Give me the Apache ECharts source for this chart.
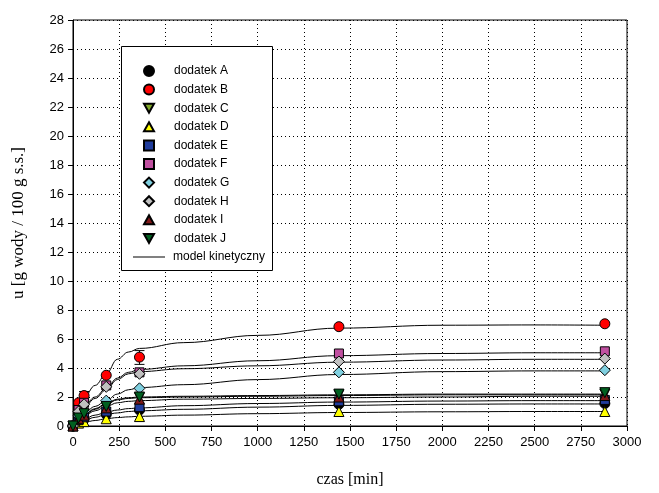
<!DOCTYPE html>
<html>
<head>
<meta charset="utf-8">
<script src="https://cdn.jsdelivr.net/npm/echarts@6/dist/echarts.min.js"></script>
<style>
  html, body { margin: 0; padding: 0; background: #fff; }
  #chart { width: 659px; height: 493px; }
</style>
</head>
<body>
<div id="chart"></div>
<script>
// measured points: time [min]
let pointTimes = [0, 30, 60, 180, 360, 1440, 2880]
let ptA = [0, 0.35, 0.5, 0.8, 1.1, 1.5, 1.55]
let ptB = [0, 1.6, 2.1, 3.5, 4.75, 6.85, 7.05]
let ptC = [0, 0.5, 0.8, 1.3, 1.95, 2.15, 2.2]
let ptD = [0, 0.2, 0.3, 0.5, 0.65, 1.0, 1.0]
let ptE = [0, 0.4, 0.6, 1.0, 1.3, 1.7, 1.8]
let ptF = [0, 1.1, 1.6, 2.8, 3.7, 5.0, 5.15]
let ptG = [0, 0.7, 1.0, 1.75, 2.6, 3.7, 3.85]
let ptH = [0, 1.0, 1.5, 2.7, 3.6, 4.45, 4.65]
let ptI = [0, 0.5, 0.75, 1.25, 1.85, 2.0, 2.1]
let ptJ = [0, 0.55, 0.85, 1.35, 2.0, 2.2, 2.3]

// error bars (only visible ones): time, low, high
let errB = [[60, 1.85, 2.38], [360, 4.25, 5.2]]

// model curves
let modelTimes = [0, 30, 60, 120, 180, 240, 300, 360, 600, 1000, 1440, 2000, 2500, 2880]
let mA = [0, 0.25, 0.4, 0.6, 0.8, 0.9, 1.0, 1.05, 1.15, 1.3, 1.42, 1.5, 1.52, 1.52]
let mB = [0, 1.3, 2.0, 2.8, 3.6, 4.6, 5.1, 5.35, 5.75, 6.25, 6.75, 6.95, 6.97, 6.95]
let mC = [0, 0.45, 0.75, 1.15, 1.5, 1.8, 1.9, 1.95, 2.0, 2.05, 2.1, 2.15, 2.15, 2.15]
let mD = [0, 0.15, 0.25, 0.38, 0.5, 0.58, 0.63, 0.67, 0.75, 0.85, 0.93, 0.98, 1.0, 1.0]
let mE = [0, 0.3, 0.5, 0.75, 0.95, 1.1, 1.2, 1.25, 1.4, 1.55, 1.65, 1.72, 1.75, 1.75]
let mF = [0, 0.9, 1.4, 2.0, 2.6, 3.3, 3.7, 3.9, 4.15, 4.5, 4.85, 5.0, 5.05, 5.05]
let mG = [0, 0.55, 0.9, 1.35, 1.75, 2.2, 2.5, 2.65, 2.85, 3.2, 3.55, 3.75, 3.8, 3.8]
let mH = [0, 0.85, 1.3, 1.9, 2.5, 3.2, 3.6, 3.75, 3.95, 4.15, 4.4, 4.55, 4.6, 4.6]
let mI = [0, 0.4, 0.7, 1.05, 1.35, 1.6, 1.7, 1.75, 1.85, 1.9, 1.95, 2.0, 2.05, 2.05]
let mJ = [0, 0.5, 0.8, 1.2, 1.55, 1.85, 1.95, 2.0, 2.05, 2.1, 2.15, 2.2, 2.2, 2.2]

let names = ['dodatek A', 'dodatek B', 'dodatek C', 'dodatek D', 'dodatek E',
  'dodatek F', 'dodatek G', 'dodatek H', 'dodatek I', 'dodatek J']
let modelName = 'model kinetyczny'
let xTicks = [0, 3000, 250]
let yTicks = [0, 28, 2]

let points = [ptA, ptB, ptC, ptD, ptE, ptF, ptG, ptH, ptI, ptJ]
let models = [mA, mB, mC, mD, mE, mF, mG, mH, mI, mJ]
let colors = ['#000000', '#ff0000', '#80a828', '#ffff00', '#203c9c',
  '#c050a0', '#80d0e0', '#c0c0c0', '#801818', '#006020']
let downTri = 'path://M0,0 L10,0 L5,9 Z'
let upTri = 'path://M5,0 L10,9 L0,9 Z'
let symbols = ['circle', 'circle', downTri, upTri, 'rect',
  'rect', 'diamond', 'diamond', upTri, downTri]
let sizes = [10, 10, 10, 10, 9, 9, 11, 11, 10, 10]

var myChart = echarts.init(document.getElementById('chart'))

let series = []
models.forEach((m, i) => {
  series.push({
    name: modelName,
    type: 'line',
    data: modelTimes.map((t, k) => [t, m[k]]),
    smooth: 0.4,
    smoothMonotone: 'x',
    symbol: 'none',
    lineStyle: { color: '#000', width: 1 },
    itemStyle: { color: '#000' },
    z: 2,
    silent: true
  })
})

series.push({
  type: 'custom',
  z: 3,
  silent: true,
  data: errB,
  renderItem: function (params, api) {
    let top = api.coord([api.value(0), api.value(2)])
    let bot = api.coord([api.value(0), api.value(1)])
    let w = 5
    let st = { stroke: '#000', lineWidth: 1 }
    return {
      type: 'group',
      children: [
        { type: 'line', shape: { x1: top[0], y1: top[1], x2: bot[0], y2: bot[1] }, style: st },
        { type: 'line', shape: { x1: top[0] - w, y1: top[1], x2: top[0] + w, y2: top[1] }, style: st },
        { type: 'line', shape: { x1: bot[0] - w, y1: bot[1], x2: bot[0] + w, y2: bot[1] }, style: st }
      ]
    }
  }
})

points.forEach((p, i) => {
  series.push({
    name: names[i],
    type: 'scatter',
    data: pointTimes.map((t, k) => [t, p[k]]),
    symbol: symbols[i],
    symbolSize: sizes[i],
    itemStyle: { color: colors[i], borderColor: '#000', borderWidth: 1, opacity: 1 },
    z: 5
  })
})

let legendFont = { fontSize: 12, color: '#000', fontFamily: 'Liberation Sans, Arial, sans-serif' }

let option = {
  animation: false,
  backgroundColor: '#fff',
  textStyle: { fontFamily: 'Liberation Sans, Arial, sans-serif', color: '#000' },
  grid: {
    left: 73, right: 32, top: 20, bottom: 67,
    show: true, borderColor: '#000', borderWidth: 1, backgroundColor: 'transparent'
  },
  graphic: [{
    type: 'rect',
    left: 121, top: 46,
    shape: { width: 151, height: 224 },
    style: { fill: '#fff', stroke: '#000', lineWidth: 1 },
    z: 50
  }],
  legend: [{
    orient: 'vertical',
    left: 143, top: 65,
    padding: 0,
    itemWidth: 10,
    itemHeight: 10,
    itemGap: 6.6,
    z: 60,
    textStyle: Object.assign({ padding: [0, 0, 0, 15] }, legendFont),
    data: names.map((n, i) => ({ name: n, icon: symbols[i] }))
  }, {
    orient: 'vertical',
    left: 133, top: 251,
    padding: 0,
    itemWidth: 32,
    itemHeight: 10,
    z: 60,
    textStyle: Object.assign({ padding: [0, 0, 0, 3] }, legendFont),
    data: [{ name: modelName, icon: 'path://M0,0 L32,0 L32,1 L0,1 Z', itemStyle: { color: '#000', borderWidth: 0 } }]
  }],
  xAxis: {
    type: 'value',
    min: xTicks[0], max: xTicks[1], interval: xTicks[2],
    name: 'czas [min]',
    nameLocation: 'middle',
    nameGap: 46,
    nameTextStyle: { fontFamily: 'Liberation Serif, Times New Roman, serif', fontSize: 16, color: '#000' },
    axisLine: { lineStyle: { color: '#000', width: 1 } },
    axisTick: { show: true, inside: false, length: 5, lineStyle: { color: '#000' } },
    axisLabel: { fontSize: 13, color: '#000', margin: 10, formatter: v => String(v) },
    splitLine: { show: true, lineStyle: { color: '#000', type: [1, 3], width: 1 } }
  },
  yAxis: {
    type: 'value',
    min: yTicks[0], max: yTicks[1], interval: yTicks[2],
    name: 'u [g wody / 100 g s.s.]',
    nameLocation: 'middle',
    nameGap: 46,
    nameRotate: 90,
    nameTextStyle: { fontFamily: 'Liberation Serif, Times New Roman, serif', fontSize: 17, color: '#000' },
    axisLine: { show: true, lineStyle: { color: '#000', width: 1 } },
    axisTick: { show: true, inside: false, length: 5, lineStyle: { color: '#000' } },
    axisLabel: { fontSize: 13, color: '#000', margin: 9 },
    splitLine: { show: true, lineStyle: { color: '#000', type: [1, 3], width: 1 } }
  },
  series: series
}

option && myChart.setOption(option)
</script>
</body>
</html>
